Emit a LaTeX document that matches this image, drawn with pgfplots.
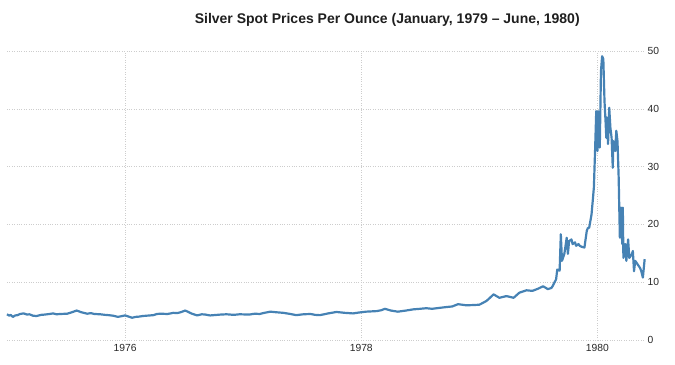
\documentclass[border=0pt]{standalone}
\usepackage{fontspec}
\setmainfont{Liberation Sans}
\usepackage{pgfplots}
\pgfplotsset{compat=1.18}
\definecolor{linec}{RGB}{70,130,180}
\definecolor{gridc}{RGB}{205,205,205}
\definecolor{txt}{RGB}{40,40,40}
\begin{document}
\begin{tikzpicture}
\path[use as bounding box] (-7bp,-25bp) rectangle (668bp,340bp);
\begin{axis}[
  at={(0,0)}, anchor=south west,
  scale only axis,
  width=638bp, height=289bp,
  xmin=1975.0, xmax=1980.403,
  ymin=0, ymax=50,
  axis line style={draw=none},
  major tick length=0pt,
  xtick={1976,1978,1980},
  xticklabels={1976,1978,1980},
  ytick={0,10,20,30,40,50},
  yticklabel pos=right,
  grid=major,
  major grid style={gridc, dotted, line width=0.6pt},
  tick label style={font=\fontsize{10.3bp}{12bp}\selectfont, text=txt},
  yticklabel style={anchor=west, xshift=-1bp},
  xticklabel style={yshift=-1bp},
  /pgf/number format/assume math mode=true,
  clip=false,
]
\addplot[color=linec, line width=2.2pt, line join=round] coordinates {
(1975.00,4.45) (1975.02,4.2) (1975.03,4.35) (1975.05,4.0) (1975.07,4.25) (1975.09,4.3) (1975.11,4.5) (1975.14,4.6) (1975.17,4.4) (1975.19,4.45) (1975.22,4.2) (1975.25,4.15)
(1975.29,4.35) (1975.32,4.4) (1975.36,4.5) (1975.39,4.6) (1975.42,4.45) (1975.45,4.5) (1975.51,4.55) (1975.55,4.8) (1975.59,5.1)
(1975.63,4.8) (1975.68,4.55) (1975.71,4.65) (1975.74,4.5) (1975.79,4.45) (1975.83,4.35) (1975.86,4.3) (1975.90,4.2) (1975.94,4.0)
(1976.00,4.25) (1976.03,4.05) (1976.06,3.85) (1976.09,4.0) (1976.12,4.05) (1976.15,4.15) (1976.18,4.2) (1976.24,4.3) (1976.27,4.5) (1976.30,4.55)
(1976.36,4.5) (1976.41,4.7) (1976.44,4.65) (1976.47,4.8) (1976.51,5.1) (1976.54,4.8) (1976.56,4.6) (1976.61,4.25)
(1976.65,4.45) (1976.68,4.4) (1976.72,4.25) (1976.75,4.3) (1976.81,4.4) (1976.86,4.45) (1976.92,4.35) (1976.97,4.45)
(1977.05,4.4) (1977.10,4.55) (1977.14,4.5) (1977.18,4.7) (1977.23,4.9) (1977.28,4.8) (1977.34,4.7) (1977.40,4.5)
(1977.45,4.3) (1977.51,4.45) (1977.57,4.5) (1977.61,4.35) (1977.65,4.3) (1977.72,4.6) (1977.79,4.85)
(1977.86,4.7) (1977.93,4.6) (1977.98,4.75) (1978.04,4.9) (1978.13,5.0) (1978.17,5.15) (1978.20,5.4) (1978.25,5.1)
(1978.31,4.9) (1978.38,5.1) (1978.44,5.3) (1978.50,5.4) (1978.55,5.5) (1978.60,5.4) (1978.64,5.5)
(1978.72,5.7) (1978.77,5.8) (1978.82,6.2) (1978.89,6.0) (1978.95,6.05) (1979.00,6.1) (1979.06,6.75)
(1979.09,7.3) (1979.12,7.9) (1979.17,7.3) (1979.23,7.6) (1979.29,7.3) (1979.34,8.2)
(1979.40,8.6) (1979.45,8.5) (1979.50,8.9) (1979.54,9.3) (1979.58,8.8) (1979.61,9.0)
(1979.62,9.3) (1979.65,10.5) (1979.66,12.2) (1979.68,12.0) (1979.69,18.3) (1979.70,13.7)
(1979.72,14.9) (1979.74,17.7) (1979.75,14.9) (1979.76,17.1) (1979.78,17.4) (1979.79,16.6)
(1979.81,16.9) (1979.82,16.3) (1979.84,16.6) (1979.85,16.3) (1979.87,16.1) (1979.89,16.0)
(1979.91,18.9) (1979.92,19.4) (1979.93,19.4) (1979.95,21.7) (1979.96,24.0) (1979.97,26.4)
(1979.98,32.7) (1979.99,39.6) (1980.00,32.7) (1980.005,39.6) (1980.02,33.3) (1980.03,46.5)
(1980.04,49.1) (1980.05,48.6) (1980.06,41.3) (1980.07,37.4) (1980.075,35.0) (1980.08,38.5)
(1980.09,33.9) (1980.10,40.2) (1980.11,36.7) (1980.12,35.0) (1980.13,29.8) (1980.135,34.4)
(1980.15,32.7) (1980.16,36.2) (1980.17,34.4) (1980.18,28.1) (1980.19,17.7) (1980.20,22.9)
(1980.21,16.6) (1980.215,22.9) (1980.22,14.2) (1980.235,16.6) (1980.245,13.7) (1980.26,17.4)
(1980.27,14.2) (1980.29,14.8) (1980.30,15.4) (1980.31,11.9) (1980.32,13.7) (1980.34,13.1)
(1980.36,12.5) (1980.37,12.0) (1980.385,10.8) (1980.40,14.0)
};
\node[font=\bfseries\fontsize{14bp}{16bp}\selectfont, text=black!88] at (rel axis cs:0.596,1.0) [yshift=28bp, anchor=base] {Silver Spot Prices Per Ounce (January, 1979 -- June, 1980)};
\end{axis}
\end{tikzpicture}
\end{document}
